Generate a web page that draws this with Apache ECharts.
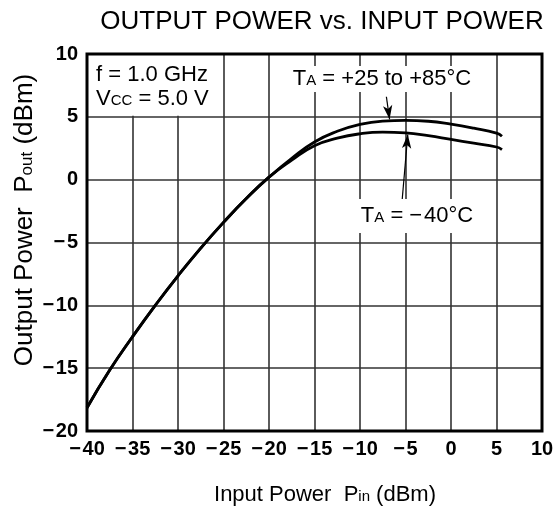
<!DOCTYPE html>
<html>
<head>
<meta charset="utf-8">
<script src="https://cdn.jsdelivr.net/npm/echarts@6/dist/echarts.min.js"></script>
<style>
  html, body { margin: 0; padding: 0; background: #fff; }
  #main { width: 557px; height: 511px; }
</style>
</head>
<body>
<div id="main"></div>
<script>
// input power (dBm) sample points
var pin = [-40, -37.5, -35, -32.5, -30, -27.5, -25, -22.5, -20, -17.5, -15, -12.5, -10, -7.5, -5, -2.5, 0, 2.5, 5, 5.6];
// TA = +25 to +85 C
var poutWarm = [-18.15, -15.15, -12.5, -10.0, -7.65, -5.45, -3.4, -1.5, 0.2, 1.7, 3.0, 3.85, 4.4, 4.66, 4.72, 4.65, 4.42, 4.1, 3.7, 3.45];
// TA = -40 C
var poutCold = [-18.15, -15.15, -12.5, -10.0, -7.65, -5.45, -3.4, -1.5, 0.2, 1.55, 2.7, 3.3, 3.65, 3.78, 3.72, 3.5, 3.2, 2.9, 2.6, 2.4];

var xTicks = [-40, -35, -30, -25, -20, -15, -10, -5, 0, 5, 10];
var yTicks = [-20, -15, -10, -5, 0, 5, 10];

// arrows from the labels to the curves (data coords)
var arrowWarm = [[-7.1, 6.6], [-6.75, 4.8]];
var arrowCold = [[-5.4, -1.9], [-4.75, 3.6]];

var font = '"Liberation Sans", Arial, Helvetica, sans-serif';

function minus(v) {
  return v < 0 ? '\u2212\u200a' + Math.abs(v) : String(v);
}

function pairs(xs, ys) {
  return xs.map(function (x, i) { return [x, ys[i]]; });
}

var myChart = echarts.init(document.getElementById('main'));

var option = {
  backgroundColor: '#fff',
  animation: false,
  title: {
    text: 'OUTPUT POWER vs. INPUT POWER',
    left: 317,
    textAlign: 'center',
    top: 4,
    textStyle: { fontFamily: font, fontSize: 26, fontWeight: 'normal', color: '#000' }
  },
  grid: { left: 87, right: 15, top: 54, bottom: 80 },
  xAxis: {
    type: 'value',
    min: xTicks[0], max: xTicks[xTicks.length - 1], interval: 5,
    axisLine: { show: false },
    axisTick: { show: false },
    splitLine: { lineStyle: { color: '#333', width: 1.6 } },
    axisLabel: {
      margin: 8,
      fontFamily: font, fontSize: 20, fontWeight: 'bold', color: '#000',
      formatter: function (v) { return minus(v); }
    }
  },
  yAxis: {
    type: 'value',
    min: yTicks[0], max: yTicks[yTicks.length - 1], interval: 5,
    axisLine: { show: false },
    axisTick: { show: false },
    splitLine: { lineStyle: { color: '#333', width: 1.6 } },
    axisLabel: {
      margin: 9,
      fontFamily: font, fontSize: 20, fontWeight: 'bold', color: '#000',
      formatter: function (v) { return minus(v); }
    }
  },
  series: [
    {
      name: 'TA = +25 to +85°C',
      type: 'line',
      smooth: 0.5,
      showSymbol: false,
      z: 3,
      lineStyle: { color: '#000', width: 2.8 },
      data: pairs(pin, poutWarm),
      markLine: {
        silent: true,
        symbol: ['none', 'arrow'],
        symbolSize: [7, 14],
        label: { show: false },
        lineStyle: { color: '#000', width: 1.2, type: 'solid' },
        data: [
          [{ coord: arrowWarm[0] }, { coord: arrowWarm[1] }],
          [{ coord: arrowCold[0] }, { coord: arrowCold[1] }]
        ]
      }
    },
    {
      name: 'TA = -40°C',
      type: 'line',
      smooth: 0.5,
      showSymbol: false,
      z: 3,
      lineStyle: { color: '#000', width: 2.8 },
      data: pairs(pin, poutCold)
    }
  ]
};

myChart.setOption(option);

// annotation boxes and frame, placed from the axis scales
var tl = myChart.convertToPixel({ gridIndex: 0 }, [-40, 10]);
var br = myChart.convertToPixel({ gridIndex: 0 }, [10, -20]);
var cell = myChart.convertToPixel({ gridIndex: 0 }, [-25, 5]);

var big = { fontFamily: font, fontSize: 22, color: '#000', verticalAlign: 'bottom' };
var small = { fontFamily: font, fontSize: 15, color: '#000', verticalAlign: 'bottom', padding: [0, 0, 2, 0] };
var nameBig = { fontFamily: font, fontSize: 26, color: '#000', verticalAlign: 'bottom' };
var nameSmall = { fontFamily: font, fontSize: 17, color: '#000', verticalAlign: 'bottom', padding: [0, 0, 2, 0] };

myChart.setOption({
  graphic: [
    {
      type: 'rect', z: 1, silent: true,
      shape: { x: tl[0], y: tl[1], width: cell[0] - tl[0] - 1, height: cell[1] - tl[1] - 1 },
      style: { fill: '#fff' }
    },
    {
      type: 'rect', z: 20, silent: true,
      shape: { x: tl[0], y: tl[1], width: br[0] - tl[0], height: br[1] - tl[1] },
      style: { fill: null, stroke: '#000', lineWidth: 3 }
    },
    {
      type: 'text', z: 21, silent: true,
      x: 96, y: 62,
      style: {
        text: '{b|f = 1.0 GHz}\n{b|V}{s|CC}{b| = 5.0 V}',
        lineHeight: 24,
        rich: { b: big, s: small }
      }
    },
    {
      type: 'text', z: 21, silent: true,
      x: 382, y: 79,
      style: {
        text: '{b|T}{s|A}{b| = +25 to +85°C}',
        align: 'center', verticalAlign: 'middle',
        backgroundColor: '#fff', padding: [2, 4, 2, 4],
        rich: { b: big, s: small }
      }
    },
    {
      type: 'text', z: 21, silent: true,
      x: 417, y: 216,
      style: {
        text: '{b|T}{s|A}{b| = \u2212\u200a40°C}',
        align: 'center', verticalAlign: 'middle',
        backgroundColor: '#fff', padding: [6, 4, 6, 4],
        rich: { b: big, s: small }
      }
    },
    {
      type: 'text', z: 21, silent: true,
      x: 25, y: 220, rotation: Math.PI / 2,
      style: {
        text: '{b|Output Power  P}{s|out}{b| (dBm)}',
        align: 'center', verticalAlign: 'middle',
        rich: { b: nameBig, s: nameSmall }
      }
    },
    {
      type: 'text', z: 21, silent: true,
      x: 325, y: 495,
      style: {
        text: '{b|Input Power  P}{s|in}{b| (dBm)}',
        align: 'center', verticalAlign: 'middle',
        rich: { b: big, s: small }
      }
    }
  ]
});
</script>
</body>
</html>
